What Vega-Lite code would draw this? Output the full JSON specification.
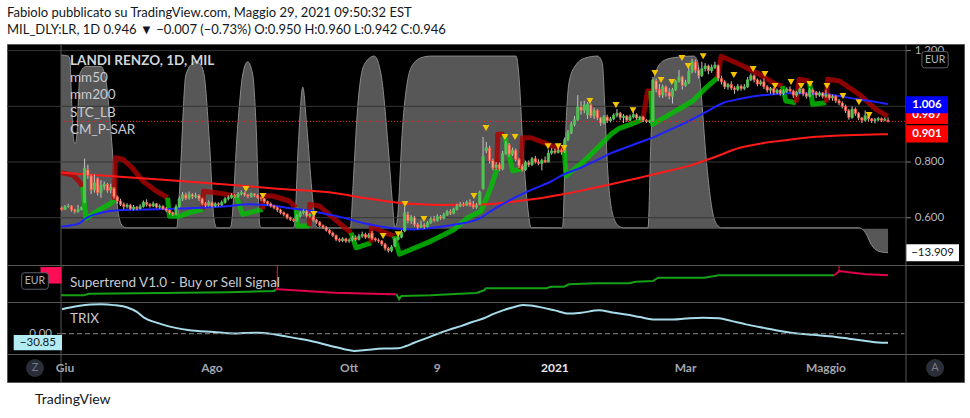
{
"$schema":"https://vega.github.io/schema/vega-lite/v6.json",
"background":"#ffffff",
"padding":{"left":6,"top":7,"right":7,"bottom":6},
"bounds":"flush",
"config":{"view":{"stroke":"#575757","fill":"#000000","strokeWidth":1},"font":"Lato"},
"title":{"text":"Fabiolo pubblicato su TradingView.com, Maggio 29, 2021 09:50:32 EST","subtitle":"MIL_DLY:LR, 1D  0.946 ▼ −0.007 (−0.73%) O:0.950 H:0.960 L:0.942 C:0.946","anchor":"start","frame":"group","font":"Lato","fontSize":13,"fontWeight":"normal","color":"#131722","subtitleFont":"Lato","subtitleFontSize":13,"subtitleFontWeight":"normal","subtitleColor":"#131722","subtitlePadding":4,"offset":6},
"spacing":0,
"resolve":{"scale":{"x":"independent","y":"independent"}},
"vconcat":[
{"width":957,"height":221,
 "resolve":{"scale":{"y":"independent"}},
 "layer":[
  {"data":{"values":[{"i":-1.22,"v":100.6},{"i":1.0,"v":100},{"i":1.5,"v":98},{"i":2.0,"v":75},{"i":2.45,"v":55},{"i":3.06,"v":49},{"i":3.67,"v":55},{"i":4.1,"v":75},{"i":4.6,"v":90},{"i":6.4,"v":94},{"i":8,"v":94},{"i":11,"v":94},{"i":12.6,"v":85},{"i":14.1,"v":55},{"i":15.6,"v":20},{"i":17.1,"v":3},{"i":18.7,"v":0.5},{"i":34.2,"v":0.5},{"i":35.0,"v":20},{"i":37.0,"v":89},{"i":39.1,"v":96},{"i":40.1,"v":97},{"i":41.5,"v":95},{"i":42.6,"v":89},{"i":44.2,"v":51},{"i":45.7,"v":4.5},{"i":46.5,"v":0.5},{"i":50.3,"v":0.5},{"i":50.8,"v":1.5},{"i":52.9,"v":60},{"i":54.4,"v":89},{"i":55.9,"v":96.7},{"i":57.5,"v":89},{"i":58.5,"v":60},{"i":59.7,"v":1.5},{"i":60.3,"v":0.5},{"i":69.7,"v":0.5},{"i":70.2,"v":1.5},{"i":71.5,"v":51},{"i":72.8,"v":82},{"i":74,"v":60},{"i":75.6,"v":22},{"i":76.9,"v":1.5},{"i":77.6,"v":0.5},{"i":87.4,"v":0.5},{"i":88.2,"v":25},{"i":89.6,"v":70},{"i":91.6,"v":95},{"i":94.7,"v":100},{"i":96.8,"v":89},{"i":98.8,"v":51},{"i":100.3,"v":14},{"i":101,"v":0.6},{"i":101.7,"v":4.5},{"i":103.4,"v":60},{"i":105.9,"v":93},{"i":109,"v":99},{"i":112,"v":100},{"i":138.1,"v":100},{"i":139.1,"v":85.6},{"i":140.1,"v":51},{"i":141.7,"v":12},{"i":142.7,"v":0.6},{"i":152.1,"v":0.5},{"i":152.4,"v":1.5},{"i":153.4,"v":60},{"i":154.4,"v":85.6},{"i":156.5,"v":95},{"i":159.5,"v":99},{"i":163.1,"v":100},{"i":164.5,"v":96},{"i":165.3,"v":70},{"i":166,"v":40},{"i":166.6,"v":22},{"i":168.5,"v":4},{"i":170,"v":1},{"i":171,"v":0.5},{"i":178.5,"v":0.5},{"i":179.4,"v":51},{"i":180.3,"v":87},{"i":183,"v":97},{"i":186.2,"v":99},{"i":192.6,"v":100},{"i":193.8,"v":96},{"i":194.7,"v":80},{"i":196.3,"v":41},{"i":198.4,"v":8.5},{"i":200,"v":1.5},{"i":201,"v":0.5},{"i":243.1,"v":0.5},{"i":245.3,"v":-3},{"i":246.8,"v":-9},{"i":249,"v":-13},{"i":252,"v":-13.909}]},
   "mark":{"type":"area","interpolate":"monotone","color":"#575757","opacity":1,"line":{"color":"#8a8a8a","strokeWidth":1}},
   "encoding":{"x":{"field":"i","type":"quantitative","scale":{"domain":[-17.76,275.26],"nice":false,"zero":false,"padding":0},"axis":{"values":[0,45,87,114,150,190,233],"grid":true,"gridColor":"#363636","labels":false,"ticks":false,"domain":false,"title":null}},
    "y":{"field":"v","type":"quantitative","scale":{"domain":[-21.03,107.0],"nice":false,"zero":false},"axis":null}}},
  {"data":{"values":[{"v":-13.909}]},
   "layer":[
    {"mark":{"type":"point","shape":"M-1,-0.32L1,-0.32L1,0.32L-1,0.32Z","filled":true,"fill":"#ffffff","size":2809,"opacity":1},
     "encoding":{"x":{"datum":265.62,"type":"quantitative","scale":{"domain":[-17.76,275.26],"nice":false,"zero":false,"padding":0},"axis":null},"y":{"field":"v","type":"quantitative","scale":{"domain":[-21.03,107.0],"nice":false,"zero":false},"axis":null}}},
    {"mark":{"type":"text","fontSize":11.5,"color":"#131722","align":"center","baseline":"middle"},
     "encoding":{"x":{"datum":265.62,"type":"quantitative","scale":{"domain":[-17.76,275.26],"nice":false,"zero":false,"padding":0},"axis":null},"y":{"field":"v","type":"quantitative","scale":{"domain":[-21.03,107.0],"nice":false,"zero":false},"axis":null},"text":{"field":"v","type":"quantitative","format":".3f"}}}
   ]},
  {"layer":[
    {"data":{"values":[{"g":0.6},{"g":0.8},{"g":1.0},{"g":1.2}]},
     "layer":[
      {"mark":{"type":"rule","color":"#363636","strokeWidth":1},
       "encoding":{"y":{"field":"g","type":"quantitative","scale":{"domain":[0.4302,1.2237],"nice":false,"zero":false},"axis":null},
        "x":{"datum":-17.76,"type":"quantitative","scale":{"domain":[-17.76,275.26],"nice":false,"zero":false,"padding":0},"axis":null},"x2":{"datum":257.5}}},
      {"mark":{"type":"rule","color":"#808080","strokeWidth":1},
       "encoding":{"y":{"field":"g","type":"quantitative","scale":{"domain":[0.4302,1.2237],"nice":false,"zero":false},"axis":null},
        "x":{"datum":257.5,"type":"quantitative","scale":{"domain":[-17.76,275.26],"nice":false,"zero":false,"padding":0},"axis":null},"x2":{"datum":259.0}}},
      {"mark":{"type":"text","fontSize":11.5,"color":"#b2b5be","align":"center","baseline":"middle"},
       "encoding":{"y":{"field":"g","type":"quantitative","scale":{"domain":[0.4302,1.2237],"nice":false,"zero":false},"axis":null},
        "x":{"datum":264.7,"type":"quantitative","scale":{"domain":[-17.76,275.26],"nice":false,"zero":false,"padding":0},"axis":null},"text":{"field":"g","type":"quantitative","format":".3f"}}}
     ]},
    {"data":{"values":[{"x":0}]},"mark":{"type":"rule","color":"#575757"},"encoding":{"x":{"datum":-1.225,"type":"quantitative","scale":{"domain":[-17.76,275.26],"nice":false,"zero":false,"padding":0},"axis":null}}},
    {"data":{"values":[{"x":0}]},"mark":{"type":"rule","color":"#575757"},"encoding":{"x":{"datum":257.5,"type":"quantitative","scale":{"domain":[-17.76,275.26],"nice":false,"zero":false,"padding":0},"axis":null}}},
    {"data":{"values":[
{"s":1,"t":"dn","i":-1.22,"p":0.762},{"s":1,"t":"dn","i":2.4,"p":0.753},{"s":1,"t":"dn","i":4.4,"p":0.729},{"s":1,"t":"dn","i":5.4,"p":0.711},
{"s":2,"t":"up","i":5.4,"p":0.711},{"s":2,"t":"up","i":6.4,"p":0.598},{"s":2,"t":"up","i":10.5,"p":0.628},{"s":2,"t":"up","i":14.1,"p":0.652},{"s":2,"t":"up","i":15.1,"p":0.664},
{"s":3,"t":"dn","i":15.1,"p":0.664},{"s":3,"t":"dn","i":15.4,"p":0.815},{"s":3,"t":"dn","i":17.7,"p":0.81},{"s":3,"t":"dn","i":20.5,"p":0.78},{"s":3,"t":"dn","i":23.8,"p":0.732},{"s":3,"t":"dn","i":27.9,"p":0.696},{"s":3,"t":"dn","i":31.4,"p":0.672},
{"s":4,"t":"up","i":31.4,"p":0.672},{"s":4,"t":"up","i":32.0,"p":0.605},{"s":4,"t":"up","i":35.0,"p":0.605},{"s":4,"t":"up","i":38.1,"p":0.618},{"s":4,"t":"up","i":42.2,"p":0.63},
{"s":5,"t":"dn","i":42.2,"p":0.63},{"s":5,"t":"dn","i":42.4,"p":0.695},{"s":5,"t":"dn","i":46.2,"p":0.69},{"s":5,"t":"dn","i":52.4,"p":0.678},
{"s":6,"t":"up","i":52.4,"p":0.678},{"s":6,"t":"up","i":54.4,"p":0.612},{"s":6,"t":"up","i":60.5,"p":0.63},
{"s":7,"t":"dn","i":60.5,"p":0.63},{"s":7,"t":"dn","i":60.6,"p":0.678},{"s":7,"t":"dn","i":63.6,"p":0.678},{"s":7,"t":"dn","i":68.7,"p":0.66},{"s":7,"t":"dn","i":70.7,"p":0.636},
{"s":8,"t":"up","i":70.7,"p":0.636},{"s":8,"t":"up","i":71.2,"p":0.57},{"s":8,"t":"up","i":74.8,"p":0.57},
{"s":9,"t":"dn","i":74.8,"p":0.57},{"s":9,"t":"dn","i":74.9,"p":0.648},{"s":9,"t":"dn","i":77.9,"p":0.642},{"s":9,"t":"dn","i":82,"p":0.6},{"s":9,"t":"dn","i":87.6,"p":0.546},
{"s":10,"t":"up","i":87.6,"p":0.546},{"s":10,"t":"up","i":89.1,"p":0.492},{"s":10,"t":"up","i":93.7,"p":0.51},
{"s":11,"t":"dn","i":93.7,"p":0.51},{"s":11,"t":"dn","i":93.8,"p":0.57},{"s":11,"t":"dn","i":96.8,"p":0.552},{"s":11,"t":"dn","i":100.8,"p":0.534},
{"s":12,"t":"up","i":100.8,"p":0.534},{"s":12,"t":"up","i":102.4,"p":0.469},{"s":12,"t":"up","i":112.1,"p":0.516},{"s":12,"t":"up","i":119.2,"p":0.558},{"s":12,"t":"up","i":123.3,"p":0.6},{"s":12,"t":"up","i":127.4,"p":0.624},{"s":12,"t":"up","i":130.4,"p":0.708},{"s":12,"t":"up","i":132.2,"p":0.774},
{"s":13,"t":"dn","i":132.2,"p":0.774},{"s":13,"t":"dn","i":132.5,"p":0.9},{"s":13,"t":"dn","i":134.5,"p":0.9},
{"s":14,"t":"up","i":134.5,"p":0.9},{"s":14,"t":"up","i":137.1,"p":0.768},{"s":14,"t":"up","i":139.6,"p":0.774},
{"s":15,"t":"dn","i":139.6,"p":0.774},{"s":15,"t":"dn","i":140.1,"p":0.887},{"s":15,"t":"dn","i":142.7,"p":0.887},{"s":15,"t":"dn","i":147.8,"p":0.864},{"s":15,"t":"dn","i":152.9,"p":0.84},
{"s":16,"t":"up","i":152.9,"p":0.84},{"s":16,"t":"up","i":153.4,"p":0.75},{"s":16,"t":"up","i":159,"p":0.804},{"s":16,"t":"up","i":163.1,"p":0.851},{"s":16,"t":"up","i":167.2,"p":0.9},{"s":16,"t":"up","i":169.7,"p":0.921},{"s":16,"t":"up","i":173.8,"p":0.938},{"s":16,"t":"up","i":176.9,"p":0.953},
{"s":17,"t":"dn","i":176.9,"p":0.953},{"s":17,"t":"dn","i":178.4,"p":1.055},{"s":17,"t":"dn","i":179.4,"p":1.055},
{"s":18,"t":"up","i":179.4,"p":1.055},{"s":18,"t":"up","i":179.9,"p":0.935},{"s":18,"t":"up","i":186.1,"p":0.977},{"s":18,"t":"up","i":192.2,"p":1.019},{"s":18,"t":"up","i":196.3,"p":1.067},{"s":18,"t":"up","i":199.8,"p":1.103},
{"s":19,"t":"dn","i":199.8,"p":1.103},{"s":19,"t":"dn","i":200.9,"p":1.18},{"s":19,"t":"dn","i":206.5,"p":1.151},{"s":19,"t":"dn","i":212.6,"p":1.115},{"s":19,"t":"dn","i":217.7,"p":1.079},{"s":19,"t":"dn","i":219.7,"p":1.073},
{"s":20,"t":"up","i":219.7,"p":1.073},{"s":20,"t":"up","i":220.7,"p":1.019},{"s":20,"t":"up","i":223.8,"p":1.013},
{"s":21,"t":"dn","i":223.8,"p":1.013},{"s":21,"t":"dn","i":224.8,"p":1.097},{"s":21,"t":"dn","i":227.9,"p":1.091},
{"s":22,"t":"up","i":227.9,"p":1.091},{"s":22,"t":"up","i":228.9,"p":1.007},{"s":22,"t":"up","i":233,"p":1.013},
{"s":23,"t":"dn","i":233,"p":1.013},{"s":23,"t":"dn","i":233.5,"p":1.097},{"s":23,"t":"dn","i":237.1,"p":1.091},{"s":23,"t":"dn","i":243.2,"p":1.043},{"s":23,"t":"dn","i":248.3,"p":0.989},{"s":23,"t":"dn","i":251.9,"p":0.965}
]},
     "mark":{"type":"line","strokeWidth":5,"opacity":0.8,"strokeJoin":"round","strokeCap":"butt"},
     "encoding":{"x":{"field":"i","type":"quantitative","scale":{"domain":[-17.76,275.26],"nice":false,"zero":false,"padding":0},"axis":null},"y":{"field":"p","type":"quantitative","scale":{"domain":[0.4302,1.2237],"nice":false,"zero":false},"axis":null},"detail":{"field":"s","type":"nominal"},"color":{"condition":{"test":"datum.t=='up'","value":"#00c400"},"value":"#b00000"}}},
    {"data":{"values":[{"i":-1.22,"p":0.762},{"i":14.7,"p":0.749},{"i":30,"p":0.736},{"i":48.4,"p":0.72},{"i":65,"p":0.704},{"i":83,"p":0.688},{"i":92,"p":0.67},{"i":102,"p":0.654},{"i":109,"p":0.648},{"i":116,"p":0.646},{"i":124,"p":0.647},{"i":130.4,"p":0.649},{"i":138.7,"p":0.66},{"i":146,"p":0.671},{"i":152.8,"p":0.685},{"i":160,"p":0.702},{"i":167.2,"p":0.72},{"i":175,"p":0.741},{"i":183,"p":0.763},{"i":191,"p":0.786},{"i":199,"p":0.818},{"i":206.4,"p":0.85},{"i":213,"p":0.866},{"i":220,"p":0.877},{"i":226.9,"p":0.887},{"i":234,"p":0.893},{"i":242,"p":0.897},{"i":252,"p":0.9}]},
     "mark":{"type":"line","color":"#ff1a1a","strokeWidth":2,"interpolate":"monotone"},
     "encoding":{"x":{"field":"i","type":"quantitative","scale":{"domain":[-17.76,275.26],"nice":false,"zero":false,"padding":0},"axis":null},"y":{"field":"p","type":"quantitative","scale":{"domain":[0.4302,1.2237],"nice":false,"zero":false},"axis":null}}},
    {"data":{"values":[{"i":-1.22,"p":0.568},{"i":2,"p":0.573},{"i":4.4,"p":0.58},{"i":6.4,"p":0.598},{"i":10.5,"p":0.616},{"i":17.6,"p":0.628},{"i":30.8,"p":0.631},{"i":40,"p":0.635},{"i":48.4,"p":0.64},{"i":56.3,"p":0.648},{"i":62.5,"p":0.645},{"i":68.6,"p":0.635},{"i":75,"p":0.625},{"i":81.4,"p":0.61},{"i":86,"p":0.598},{"i":91.5,"p":0.58},{"i":97,"p":0.568},{"i":102,"p":0.56},{"i":107,"p":0.558},{"i":112,"p":0.563},{"i":119,"p":0.575},{"i":126.5,"p":0.595},{"i":130.4,"p":0.624},{"i":134.5,"p":0.652},{"i":138.7,"p":0.678},{"i":143.8,"p":0.705},{"i":148.8,"p":0.73},{"i":152.8,"p":0.756},{"i":158,"p":0.78},{"i":163,"p":0.808},{"i":167.2,"p":0.832},{"i":174,"p":0.862},{"i":181,"p":0.893},{"i":186,"p":0.92},{"i":191,"p":0.947},{"i":196,"p":0.978},{"i":201.5,"p":1.012},{"i":206.5,"p":1.026},{"i":211.6,"p":1.037},{"i":216.6,"p":1.043},{"i":221.7,"p":1.047},{"i":227,"p":1.047},{"i":232.1,"p":1.044},{"i":237,"p":1.037},{"i":242.2,"p":1.026},{"i":247,"p":1.018},{"i":252,"p":1.008}]},
     "mark":{"type":"line","color":"#1e22ff","strokeWidth":2,"interpolate":"monotone"},
     "encoding":{"x":{"field":"i","type":"quantitative","scale":{"domain":[-17.76,275.26],"nice":false,"zero":false,"padding":0},"axis":null},"y":{"field":"p","type":"quantitative","scale":{"domain":[0.4302,1.2237],"nice":false,"zero":false},"axis":null}}},
    {"data":{"values":[{"c":0.946}]},
     "mark":{"type":"rule","color":"#ff2020","strokeWidth":1,"strokeDash":[1,2]},
     "encoding":{"y":{"field":"c","type":"quantitative","scale":{"domain":[0.4302,1.2237],"nice":false,"zero":false},"axis":null},"x":{"datum":-1.225,"type":"quantitative","scale":{"domain":[-17.76,275.26],"nice":false,"zero":false,"padding":0},"axis":null},"x2":{"datum":257.5}}},
    {"data":{"name":"ohlc","values":[
{"i":-1,"o":0.635,"h":0.640,"l":0.625,"c":0.630},{"i":0,"o":0.630,"h":0.645,"l":0.628,"c":0.640},{"i":1,"o":0.640,"h":0.650,"l":0.636,"c":0.642},{"i":2,"o":0.642,"h":0.645,"l":0.622,"c":0.628},{"i":3,"o":0.628,"h":0.632,"l":0.615,"c":0.622},{"i":4,"o":0.622,"h":0.646,"l":0.618,"c":0.630},{"i":5,"o":0.630,"h":0.640,"l":0.626,"c":0.636},{"i":6,"o":0.655,"h":0.812,"l":0.652,"c":0.778},{"i":7,"o":0.772,"h":0.790,"l":0.740,"c":0.752},{"i":8,"o":0.750,"h":0.755,"l":0.685,"c":0.700},
{"i":9,"o":0.700,"h":0.755,"l":0.690,"c":0.725},{"i":10,"o":0.740,"h":0.745,"l":0.680,"c":0.690},{"i":11,"o":0.690,"h":0.735,"l":0.672,"c":0.715},{"i":12,"o":0.712,"h":0.730,"l":0.700,"c":0.720},{"i":13,"o":0.720,"h":0.725,"l":0.690,"c":0.698},{"i":14,"o":0.700,"h":0.722,"l":0.688,"c":0.710},{"i":15,"o":0.705,"h":0.710,"l":0.668,"c":0.675},{"i":16,"o":0.675,"h":0.680,"l":0.650,"c":0.660},{"i":17,"o":0.660,"h":0.668,"l":0.642,"c":0.648},{"i":18,"o":0.648,"h":0.655,"l":0.630,"c":0.640},
{"i":19,"o":0.640,"h":0.652,"l":0.633,"c":0.645},{"i":20,"o":0.645,"h":0.650,"l":0.628,"c":0.632},{"i":21,"o":0.632,"h":0.646,"l":0.626,"c":0.638},{"i":22,"o":0.638,"h":0.642,"l":0.627,"c":0.633},{"i":23,"o":0.633,"h":0.648,"l":0.630,"c":0.640},{"i":24,"o":0.640,"h":0.662,"l":0.636,"c":0.655},{"i":25,"o":0.655,"h":0.666,"l":0.640,"c":0.648},{"i":26,"o":0.648,"h":0.652,"l":0.636,"c":0.642},{"i":27,"o":0.642,"h":0.658,"l":0.638,"c":0.650},{"i":28,"o":0.650,"h":0.653,"l":0.634,"c":0.638},
{"i":29,"o":0.638,"h":0.648,"l":0.632,"c":0.641},{"i":30,"o":0.641,"h":0.645,"l":0.628,"c":0.632},{"i":31,"o":0.632,"h":0.638,"l":0.620,"c":0.626},{"i":32,"o":0.626,"h":0.630,"l":0.612,"c":0.618},{"i":33,"o":0.618,"h":0.622,"l":0.606,"c":0.612},{"i":34,"o":0.612,"h":0.648,"l":0.608,"c":0.640},{"i":35,"o":0.640,"h":0.676,"l":0.636,"c":0.668},{"i":36,"o":0.668,"h":0.692,"l":0.660,"c":0.682},{"i":37,"o":0.682,"h":0.690,"l":0.664,"c":0.670},{"i":38,"o":0.670,"h":0.694,"l":0.665,"c":0.684},
{"i":39,"o":0.684,"h":0.688,"l":0.668,"c":0.676},{"i":40,"o":0.676,"h":0.690,"l":0.670,"c":0.680},{"i":41,"o":0.680,"h":0.684,"l":0.660,"c":0.668},{"i":42,"o":0.668,"h":0.672,"l":0.644,"c":0.650},{"i":43,"o":0.650,"h":0.656,"l":0.638,"c":0.645},{"i":44,"o":0.645,"h":0.662,"l":0.640,"c":0.655},{"i":45,"o":0.655,"h":0.658,"l":0.636,"c":0.642},{"i":46,"o":0.642,"h":0.656,"l":0.638,"c":0.650},{"i":47,"o":0.650,"h":0.655,"l":0.640,"c":0.646},{"i":48,"o":0.646,"h":0.662,"l":0.642,"c":0.655},
{"i":49,"o":0.655,"h":0.674,"l":0.650,"c":0.668},{"i":50,"o":0.668,"h":0.680,"l":0.662,"c":0.672},{"i":51,"o":0.672,"h":0.688,"l":0.668,"c":0.680},{"i":52,"o":0.680,"h":0.686,"l":0.670,"c":0.676},{"i":53,"o":0.676,"h":0.692,"l":0.672,"c":0.685},{"i":54,"o":0.685,"h":0.698,"l":0.680,"c":0.690},{"i":55,"o":0.690,"h":0.694,"l":0.676,"c":0.682},{"i":56,"o":0.682,"h":0.686,"l":0.670,"c":0.676},{"i":57,"o":0.676,"h":0.690,"l":0.672,"c":0.686},{"i":58,"o":0.686,"h":0.688,"l":0.674,"c":0.680},
{"i":59,"o":0.680,"h":0.684,"l":0.668,"c":0.672},{"i":60,"o":0.672,"h":0.676,"l":0.660,"c":0.668},{"i":61,"o":0.668,"h":0.670,"l":0.652,"c":0.658},{"i":62,"o":0.658,"h":0.662,"l":0.644,"c":0.650},{"i":63,"o":0.650,"h":0.655,"l":0.636,"c":0.642},{"i":64,"o":0.642,"h":0.646,"l":0.630,"c":0.636},{"i":65,"o":0.636,"h":0.640,"l":0.620,"c":0.628},{"i":66,"o":0.628,"h":0.632,"l":0.612,"c":0.618},{"i":67,"o":0.618,"h":0.622,"l":0.605,"c":0.612},{"i":68,"o":0.612,"h":0.615,"l":0.594,"c":0.600},
{"i":69,"o":0.600,"h":0.604,"l":0.588,"c":0.594},{"i":70,"o":0.594,"h":0.598,"l":0.584,"c":0.590},{"i":71,"o":0.590,"h":0.612,"l":0.586,"c":0.606},{"i":72,"o":0.606,"h":0.624,"l":0.600,"c":0.618},{"i":73,"o":0.618,"h":0.630,"l":0.612,"c":0.624},{"i":74,"o":0.624,"h":0.628,"l":0.600,"c":0.606},{"i":75,"o":0.606,"h":0.618,"l":0.600,"c":0.612},{"i":76,"o":0.604,"h":0.606,"l":0.586,"c":0.592},{"i":77,"o":0.592,"h":0.596,"l":0.578,"c":0.584},{"i":78,"o":0.584,"h":0.588,"l":0.566,"c":0.572},
{"i":79,"o":0.572,"h":0.576,"l":0.560,"c":0.566},{"i":80,"o":0.566,"h":0.570,"l":0.550,"c":0.555},{"i":81,"o":0.555,"h":0.560,"l":0.540,"c":0.545},{"i":82,"o":0.545,"h":0.550,"l":0.530,"c":0.536},{"i":83,"o":0.536,"h":0.540,"l":0.516,"c":0.522},{"i":84,"o":0.522,"h":0.528,"l":0.512,"c":0.518},{"i":85,"o":0.518,"h":0.530,"l":0.512,"c":0.524},{"i":86,"o":0.524,"h":0.528,"l":0.510,"c":0.516},{"i":87,"o":0.516,"h":0.526,"l":0.510,"c":0.520},{"i":88,"o":0.520,"h":0.535,"l":0.515,"c":0.528},
{"i":89,"o":0.528,"h":0.536,"l":0.516,"c":0.522},{"i":90,"o":0.522,"h":0.542,"l":0.518,"c":0.534},{"i":91,"o":0.534,"h":0.550,"l":0.528,"c":0.540},{"i":92,"o":0.540,"h":0.546,"l":0.524,"c":0.530},{"i":93,"o":0.530,"h":0.545,"l":0.526,"c":0.538},{"i":94,"o":0.545,"h":0.552,"l":0.520,"c":0.525},{"i":95,"o":0.525,"h":0.530,"l":0.514,"c":0.520},{"i":96,"o":0.520,"h":0.526,"l":0.510,"c":0.516},{"i":97,"o":0.516,"h":0.520,"l":0.498,"c":0.505},{"i":98,"o":0.505,"h":0.510,"l":0.482,"c":0.490},
{"i":99,"o":0.490,"h":0.496,"l":0.475,"c":0.482},{"i":100,"o":0.482,"h":0.502,"l":0.476,"c":0.495},{"i":101,"o":0.498,"h":0.528,"l":0.494,"c":0.522},{"i":102,"o":0.522,"h":0.536,"l":0.518,"c":0.530},{"i":103,"o":0.530,"h":0.556,"l":0.526,"c":0.548},{"i":104,"o":0.552,"h":0.640,"l":0.548,"c":0.618},{"i":105,"o":0.612,"h":0.622,"l":0.580,"c":0.588},{"i":106,"o":0.588,"h":0.610,"l":0.578,"c":0.602},{"i":107,"o":0.600,"h":0.606,"l":0.568,"c":0.575},{"i":108,"o":0.575,"h":0.582,"l":0.558,"c":0.566},
{"i":109,"o":0.566,"h":0.590,"l":0.562,"c":0.574},{"i":110,"o":0.574,"h":0.580,"l":0.560,"c":0.568},{"i":111,"o":0.568,"h":0.588,"l":0.565,"c":0.582},{"i":112,"o":0.582,"h":0.604,"l":0.578,"c":0.596},{"i":113,"o":0.596,"h":0.606,"l":0.585,"c":0.590},{"i":114,"o":0.590,"h":0.612,"l":0.586,"c":0.604},{"i":115,"o":0.604,"h":0.610,"l":0.592,"c":0.598},{"i":116,"o":0.598,"h":0.618,"l":0.594,"c":0.610},{"i":117,"o":0.610,"h":0.628,"l":0.606,"c":0.622},{"i":118,"o":0.622,"h":0.630,"l":0.610,"c":0.616},
{"i":119,"o":0.616,"h":0.636,"l":0.612,"c":0.630},{"i":120,"o":0.630,"h":0.650,"l":0.626,"c":0.642},{"i":121,"o":0.642,"h":0.656,"l":0.638,"c":0.648},{"i":122,"o":0.648,"h":0.655,"l":0.640,"c":0.645},{"i":123,"o":0.645,"h":0.662,"l":0.642,"c":0.655},{"i":124,"o":0.655,"h":0.666,"l":0.640,"c":0.646},{"i":125,"o":0.646,"h":0.660,"l":0.632,"c":0.638},{"i":126,"o":0.638,"h":0.652,"l":0.632,"c":0.645},{"i":127,"o":0.648,"h":0.698,"l":0.645,"c":0.692},{"i":128,"o":0.705,"h":0.890,"l":0.700,"c":0.820},
{"i":129,"o":0.840,"h":0.872,"l":0.832,"c":0.852},{"i":130,"o":0.850,"h":0.858,"l":0.795,"c":0.805},{"i":131,"o":0.805,"h":0.812,"l":0.770,"c":0.778},{"i":132,"o":0.780,"h":0.800,"l":0.772,"c":0.790},{"i":133,"o":0.790,"h":0.798,"l":0.768,"c":0.775},{"i":134,"o":0.775,"h":0.840,"l":0.770,"c":0.830},{"i":135,"o":0.830,"h":0.876,"l":0.826,"c":0.866},{"i":136,"o":0.862,"h":0.868,"l":0.820,"c":0.828},{"i":137,"o":0.828,"h":0.852,"l":0.822,"c":0.842},{"i":138,"o":0.842,"h":0.848,"l":0.802,"c":0.810},
{"i":139,"o":0.810,"h":0.815,"l":0.778,"c":0.785},{"i":140,"o":0.785,"h":0.792,"l":0.766,"c":0.772},{"i":141,"o":0.772,"h":0.805,"l":0.768,"c":0.798},{"i":142,"o":0.798,"h":0.806,"l":0.782,"c":0.790},{"i":143,"o":0.790,"h":0.818,"l":0.786,"c":0.812},{"i":144,"o":0.812,"h":0.822,"l":0.794,"c":0.800},{"i":145,"o":0.800,"h":0.810,"l":0.788,"c":0.795},{"i":146,"o":0.795,"h":0.812,"l":0.770,"c":0.806},{"i":147,"o":0.806,"h":0.820,"l":0.796,"c":0.800},{"i":148,"o":0.800,"h":0.845,"l":0.798,"c":0.832},
{"i":149,"o":0.832,"h":0.850,"l":0.826,"c":0.840},{"i":150,"o":0.840,"h":0.848,"l":0.828,"c":0.834},{"i":151,"o":0.834,"h":0.852,"l":0.830,"c":0.842},{"i":152,"o":0.842,"h":0.848,"l":0.826,"c":0.836},{"i":153,"o":0.836,"h":0.888,"l":0.832,"c":0.880},{"i":154,"o":0.880,"h":0.915,"l":0.875,"c":0.905},{"i":155,"o":0.905,"h":0.945,"l":0.900,"c":0.935},{"i":156,"o":0.935,"h":0.965,"l":0.928,"c":0.952},{"i":157,"o":0.952,"h":1.040,"l":0.948,"c":0.998},{"i":158,"o":0.998,"h":1.018,"l":0.970,"c":0.985},
{"i":159,"o":0.985,"h":1.020,"l":0.975,"c":1.005},{"i":160,"o":0.970,"h":1.015,"l":0.955,"c":1.008},{"i":161,"o":1.005,"h":1.010,"l":0.958,"c":0.965},{"i":162,"o":0.965,"h":0.995,"l":0.955,"c":0.985},{"i":163,"o":0.985,"h":0.990,"l":0.950,"c":0.958},{"i":164,"o":0.958,"h":0.962,"l":0.930,"c":0.940},{"i":165,"o":0.940,"h":0.968,"l":0.935,"c":0.962},{"i":166,"o":0.962,"h":0.970,"l":0.940,"c":0.948},{"i":167,"o":0.948,"h":0.962,"l":0.942,"c":0.955},{"i":168,"o":0.955,"h":0.975,"l":0.950,"c":0.968},
{"i":169,"o":0.968,"h":0.990,"l":0.960,"c":0.975},{"i":170,"o":0.975,"h":0.980,"l":0.950,"c":0.960},{"i":171,"o":0.960,"h":0.972,"l":0.940,"c":0.965},{"i":172,"o":0.965,"h":0.968,"l":0.944,"c":0.950},{"i":173,"o":0.950,"h":0.970,"l":0.946,"c":0.962},{"i":174,"o":0.962,"h":0.980,"l":0.956,"c":0.970},{"i":175,"o":0.970,"h":0.975,"l":0.952,"c":0.958},{"i":176,"o":0.958,"h":0.966,"l":0.950,"c":0.962},{"i":177,"o":0.962,"h":0.966,"l":0.944,"c":0.950},{"i":178,"o":0.950,"h":0.955,"l":0.940,"c":0.945},
{"i":179,"o":0.945,"h":0.952,"l":0.940,"c":0.948},{"i":180,"o":0.948,"h":1.105,"l":0.945,"c":1.095},{"i":181,"o":1.092,"h":1.100,"l":1.050,"c":1.060},{"i":182,"o":1.060,"h":1.080,"l":1.032,"c":1.040},{"i":183,"o":1.040,"h":1.078,"l":1.030,"c":1.070},{"i":184,"o":1.070,"h":1.075,"l":1.035,"c":1.050},{"i":185,"o":1.050,"h":1.065,"l":1.025,"c":1.036},{"i":186,"o":1.036,"h":1.066,"l":1.010,"c":1.060},{"i":187,"o":1.060,"h":1.095,"l":1.055,"c":1.090},{"i":188,"o":1.090,"h":1.130,"l":1.085,"c":1.105},
{"i":189,"o":1.105,"h":1.110,"l":1.060,"c":1.075},{"i":190,"o":1.075,"h":1.095,"l":1.070,"c":1.085},{"i":191,"o":1.085,"h":1.140,"l":1.080,"c":1.125},{"i":192,"o":1.125,"h":1.170,"l":1.118,"c":1.160},{"i":193,"o":1.160,"h":1.168,"l":1.120,"c":1.130},{"i":194,"o":1.130,"h":1.140,"l":1.100,"c":1.110},{"i":195,"o":1.110,"h":1.160,"l":1.105,"c":1.135},{"i":196,"o":1.135,"h":1.155,"l":1.125,"c":1.145},{"i":197,"o":1.145,"h":1.150,"l":1.115,"c":1.128},{"i":198,"o":1.128,"h":1.150,"l":1.120,"c":1.140},
{"i":199,"o":1.140,"h":1.160,"l":1.134,"c":1.148},{"i":200,"o":1.146,"h":1.150,"l":1.090,"c":1.100},{"i":201,"o":1.100,"h":1.110,"l":1.078,"c":1.088},{"i":202,"o":1.088,"h":1.094,"l":1.062,"c":1.070},{"i":203,"o":1.070,"h":1.084,"l":1.060,"c":1.078},{"i":204,"o":1.078,"h":1.090,"l":1.058,"c":1.066},{"i":205,"o":1.066,"h":1.072,"l":1.045,"c":1.060},{"i":206,"o":1.060,"h":1.080,"l":1.054,"c":1.072},{"i":207,"o":1.072,"h":1.078,"l":1.056,"c":1.064},{"i":208,"o":1.064,"h":1.080,"l":1.058,"c":1.070},
{"i":209,"o":1.070,"h":1.105,"l":1.066,"c":1.095},{"i":210,"o":1.095,"h":1.118,"l":1.090,"c":1.110},{"i":211,"o":1.110,"h":1.114,"l":1.086,"c":1.095},{"i":212,"o":1.095,"h":1.100,"l":1.072,"c":1.080},{"i":213,"o":1.080,"h":1.096,"l":1.074,"c":1.088},{"i":214,"o":1.088,"h":1.100,"l":1.062,"c":1.070},{"i":215,"o":1.070,"h":1.076,"l":1.050,"c":1.058},{"i":216,"o":1.058,"h":1.070,"l":1.045,"c":1.064},{"i":217,"o":1.064,"h":1.068,"l":1.042,"c":1.050},{"i":218,"o":1.050,"h":1.064,"l":1.044,"c":1.058},
{"i":219,"o":1.058,"h":1.062,"l":1.038,"c":1.046},{"i":220,"o":1.046,"h":1.060,"l":1.040,"c":1.054},{"i":221,"o":1.054,"h":1.068,"l":1.048,"c":1.062},{"i":222,"o":1.062,"h":1.072,"l":1.050,"c":1.055},{"i":223,"o":1.055,"h":1.060,"l":1.030,"c":1.040},{"i":224,"o":1.040,"h":1.056,"l":1.034,"c":1.050},{"i":225,"o":1.050,"h":1.068,"l":1.044,"c":1.062},{"i":226,"o":1.062,"h":1.066,"l":1.036,"c":1.045},{"i":227,"o":1.045,"h":1.050,"l":1.028,"c":1.036},{"i":228,"o":1.036,"h":1.065,"l":1.032,"c":1.058},
{"i":229,"o":1.058,"h":1.064,"l":1.040,"c":1.050},{"i":230,"o":1.050,"h":1.055,"l":1.030,"c":1.040},{"i":231,"o":1.040,"h":1.054,"l":1.034,"c":1.048},{"i":232,"o":1.048,"h":1.052,"l":1.028,"c":1.036},{"i":233,"o":1.036,"h":1.060,"l":1.030,"c":1.042},{"i":234,"o":1.042,"h":1.046,"l":1.022,"c":1.030},{"i":235,"o":1.030,"h":1.042,"l":1.020,"c":1.036},{"i":236,"o":1.036,"h":1.040,"l":1.012,"c":1.020},{"i":237,"o":1.020,"h":1.026,"l":1.004,"c":1.012},{"i":238,"o":1.012,"h":1.018,"l":0.992,"c":1.000},
{"i":239,"o":1.000,"h":1.006,"l":0.976,"c":0.985},{"i":240,"o":0.985,"h":0.990,"l":0.952,"c":0.960},{"i":241,"o":0.960,"h":1.000,"l":0.955,"c":0.990},{"i":242,"o":0.990,"h":0.996,"l":0.966,"c":0.975},{"i":243,"o":0.975,"h":0.980,"l":0.950,"c":0.958},{"i":244,"o":0.958,"h":0.962,"l":0.940,"c":0.950},{"i":245,"o":0.950,"h":0.985,"l":0.945,"c":0.966},{"i":246,"o":0.966,"h":0.970,"l":0.946,"c":0.955},{"i":247,"o":0.955,"h":0.958,"l":0.940,"c":0.948},{"i":248,"o":0.948,"h":0.958,"l":0.938,"c":0.952},
{"i":249,"o":0.952,"h":0.962,"l":0.946,"c":0.956},{"i":250,"o":0.956,"h":0.960,"l":0.944,"c":0.950},{"i":251,"o":0.950,"h":0.960,"l":0.946,"c":0.953},{"i":252,"o":0.950,"h":0.960,"l":0.942,"c":0.946}
]},
     "layer":[
      {"mark":{"type":"rule","color":"#c4c4c4","strokeWidth":1},
       "encoding":{"x":{"field":"i","type":"quantitative","scale":{"domain":[-17.76,275.26],"nice":false,"zero":false,"padding":0},"axis":null},"y":{"field":"l","type":"quantitative","scale":{"domain":[0.4302,1.2237],"nice":false,"zero":false},"axis":null},"y2":{"field":"h"}}},
      {"mark":{"type":"bar","width":2.2,"strokeWidth":0.8},
       "encoding":{"x":{"field":"i","type":"quantitative","scale":{"domain":[-17.76,275.26],"nice":false,"zero":false,"padding":0},"axis":null},"y":{"field":"o","type":"quantitative","scale":{"domain":[0.4302,1.2237],"nice":false,"zero":false},"axis":null},"y2":{"field":"c"},
        "fill":{"condition":{"test":"datum.c >= datum.o","value":"#52c455"},"value":"#ffb49c"},
        "stroke":{"condition":{"test":"datum.c >= datum.o","value":"#52c455"},"value":"#ff4a3a"}}}
     ]},
    {"data":{"values":[{"i":55.4,"p":0.703},{"i":60.6,"p":0.678},{"i":76.2,"p":0.613},{"i":97.4,"p":0.534},{"i":102,"p":0.541},{"i":104.1,"p":0.649},{"i":109.9,"p":0.595},{"i":125.2,"p":0.678},{"i":128.9,"p":0.922},{"i":134.7,"p":0.89},{"i":137.8,"p":0.89},{"i":147.9,"p":0.857},{"i":151,"p":0.857},{"i":152.8,"p":0.85},{"i":160.7,"p":1.019},{"i":168.7,"p":1.005},{"i":173.9,"p":0.986},{"i":180.6,"p":1.12},{"i":182.5,"p":1.094},{"i":185.8,"p":1.087},{"i":188.9,"p":1.173},{"i":190.8,"p":1.145},{"i":195.4,"p":1.18},{"i":204.8,"p":1.112},{"i":210.7,"p":1.134},{"i":214.3,"p":1.116},{"i":217.4,"p":1.073},{"i":222.3,"p":1.087},{"i":225.4,"p":1.073},{"i":228.1,"p":1.08},{"i":233.3,"p":1.073},{"i":238.2,"p":1.037},{"i":243.1,"p":1.015},{"i":246.2,"p":0.969}]},
     "mark":{"type":"point","shape":"triangle-down","filled":true,"color":"#f5c400","size":48,"opacity":1},
     "encoding":{"x":{"field":"i","type":"quantitative","scale":{"domain":[-17.76,275.26],"nice":false,"zero":false,"padding":0},"axis":null},"y":{"field":"p","type":"quantitative","scale":{"domain":[0.4302,1.2237],"nice":false,"zero":false},"axis":null}}},
    {"data":{"values":[{"v":0.901},{"v":0.967}]},
     "layer":[
      {"mark":{"type":"point","shape":"M-1,-0.405L1,-0.405L1,0.405L-1,0.405Z","filled":true,"fill":"#ff0000","size":1764,"opacity":1},
       "encoding":{"x":{"datum":263.93,"type":"quantitative","scale":{"domain":[-17.76,275.26],"nice":false,"zero":false,"padding":0},"axis":null},"y":{"field":"v","type":"quantitative","scale":{"domain":[0.4302,1.2237],"nice":false,"zero":false},"axis":null}}},
      {"mark":{"type":"text","fontSize":11.5,"fontWeight":"bold","color":"#ffffff","align":"center","baseline":"middle"},
       "encoding":{"x":{"datum":263.93,"type":"quantitative","scale":{"domain":[-17.76,275.26],"nice":false,"zero":false,"padding":0},"axis":null},"y":{"field":"v","type":"quantitative","scale":{"domain":[0.4302,1.2237],"nice":false,"zero":false},"axis":null},"text":{"field":"v","type":"quantitative","format":".3f"}}}
     ]},
    {"data":{"values":[{"v":1.006}]},
     "layer":[
      {"mark":{"type":"point","shape":"M-1,-0.405L1,-0.405L1,0.405L-1,0.405Z","filled":true,"fill":"#0000ff","size":1764,"opacity":1},
       "encoding":{"x":{"datum":263.93,"type":"quantitative","scale":{"domain":[-17.76,275.26],"nice":false,"zero":false,"padding":0},"axis":null},"y":{"field":"v","type":"quantitative","scale":{"domain":[0.4302,1.2237],"nice":false,"zero":false},"axis":null}}},
      {"mark":{"type":"text","fontSize":11.5,"fontWeight":"bold","color":"#ffffff","align":"center","baseline":"middle"},
       "encoding":{"x":{"datum":263.93,"type":"quantitative","scale":{"domain":[-17.76,275.26],"nice":false,"zero":false,"padding":0},"axis":null},"y":{"field":"v","type":"quantitative","scale":{"domain":[0.4302,1.2237],"nice":false,"zero":false},"axis":null},"text":{"field":"v","type":"quantitative","format":".3f"}}}
     ]},
    {"data":{"values":[{"u":"EUR"}]},
     "layer":[
      {"mark":{"type":"point","shape":"M-0.8,-0.62Q-1,-0.62,-1,-0.42L-1,0.42Q-1,0.62,-0.8,0.62L0.8,0.62Q1,0.62,1,0.42L1,-0.42Q1,-0.62,0.8,-0.62Z","filled":true,"fill":"#000000","stroke":"#5d606b","strokeWidth":1,"size":690,"opacity":1},
       "encoding":{"x":{"datum":266.4,"type":"quantitative","scale":{"domain":[-17.76,275.26],"nice":false,"zero":false,"padding":0},"axis":null},"y":{"datum":1.1673,"type":"quantitative","scale":{"domain":[0.4302,1.2237],"nice":false,"zero":false},"axis":null}}},
      {"mark":{"type":"text","fontSize":10.5,"color":"#b2b5be","align":"center","baseline":"middle"},
       "encoding":{"x":{"datum":266.4,"type":"quantitative","scale":{"domain":[-17.76,275.26],"nice":false,"zero":false,"padding":0},"axis":null},"y":{"datum":1.1673,"type":"quantitative","scale":{"domain":[0.4302,1.2237],"nice":false,"zero":false},"axis":null},"text":{"field":"u"}}}
     ]},
    {"data":{"values":[{"t":"LANDI RENZO, 1D, MIL"}]},
     "mark":{"type":"text","fontSize":13.5,"fontWeight":"bold","color":"#d1d4dc","align":"left","baseline":"middle"},
     "encoding":{"x":{"datum":1.53,"type":"quantitative","scale":{"domain":[-17.76,275.26],"nice":false,"zero":false,"padding":0},"axis":null},"y":{"datum":1.1616,"type":"quantitative","scale":{"domain":[0.4302,1.2237],"nice":false,"zero":false},"axis":null},"text":{"field":"t"}}},
    {"data":{"values":[{"t":"mm50","p":1.1005},{"t":"mm200","p":1.0388},{"t":"STC_LB","p":0.9777},{"t":"CM_P-SAR","p":0.9167}]},
     "mark":{"type":"text","fontSize":13.5,"color":"#c8cad2","align":"left","baseline":"middle"},
     "encoding":{"x":{"datum":1.53,"type":"quantitative","scale":{"domain":[-17.76,275.26],"nice":false,"zero":false,"padding":0},"axis":null},"y":{"field":"p","type":"quantitative","scale":{"domain":[0.4302,1.2237],"nice":false,"zero":false},"axis":null},"text":{"field":"t"}}}
  ]}
 ]},
{"width":957,"height":37,
 "layer":[
  {"data":{"values":[
{"s":1,"t":"up","i":-1.22,"v":0.58},{"s":1,"t":"up","i":5.8,"v":0.58},{"s":1,"t":"up","i":7.3,"v":0.612},{"s":1,"t":"up","i":30,"v":0.625},{"s":1,"t":"up","i":50,"v":0.64},{"s":1,"t":"up","i":64,"v":0.666},{"s":1,"t":"up","i":64.6,"v":0.7},
{"s":2,"t":"dn","i":64.6,"v":0.7},{"s":2,"t":"dn","i":65.2,"v":0.7},{"s":2,"t":"dn","i":82.4,"v":0.632},{"s":2,"t":"dn","i":100.4,"v":0.6},{"s":2,"t":"dn","i":101.5,"v":0.6},
{"s":3,"t":"up","i":101.5,"v":0.6},{"s":3,"t":"up","i":102.3,"v":0.5},{"s":3,"t":"up","i":103,"v":0.566},{"s":3,"t":"up","i":112,"v":0.58},{"s":3,"t":"up","i":124,"v":0.62},{"s":3,"t":"up","i":126,"v":0.625},{"s":3,"t":"up","i":128.3,"v":0.68},{"s":3,"t":"up","i":128.9,"v":0.72},{"s":3,"t":"up","i":147.3,"v":0.72},{"s":3,"t":"up","i":148.8,"v":0.752},{"s":3,"t":"up","i":152.8,"v":0.752},{"s":3,"t":"up","i":154.3,"v":0.8},{"s":3,"t":"up","i":162.6,"v":0.82},{"s":3,"t":"up","i":172.7,"v":0.82},{"s":3,"t":"up","i":174.8,"v":0.852},{"s":3,"t":"up","i":180,"v":0.866},{"s":3,"t":"up","i":181.6,"v":0.932},{"s":3,"t":"up","i":195.7,"v":0.932},{"s":3,"t":"up","i":200.2,"v":0.98},{"s":3,"t":"up","i":235.5,"v":0.98},
{"s":4,"t":"dn","i":235.5,"v":0.98},{"s":4,"t":"dn","i":236.2,"v":1.012},{"s":4,"t":"dn","i":237,"v":1.066},{"s":4,"t":"dn","i":241.3,"v":1.032},{"s":4,"t":"dn","i":245.3,"v":1.0},{"s":4,"t":"dn","i":252,"v":0.98}
]},
   "mark":{"type":"line","strokeWidth":2},
   "encoding":{"x":{"field":"i","type":"quantitative","scale":{"domain":[-17.76,275.26],"nice":false,"zero":false,"padding":0},"axis":{"values":[0,45,87,114,150,190,233],"grid":true,"gridColor":"#363636","labels":false,"ticks":false,"domain":false,"title":null}},
    "y":{"field":"v","type":"quantitative","scale":{"domain":[0.446,1.186],"nice":false,"zero":false},"axis":null},"detail":{"field":"s","type":"nominal"},
    "color":{"condition":{"test":"datum.t=='up'","value":"#15a015"},"value":"#e0004e"}}},
  {"data":{"values":[{"i":65.0,"a":1.166,"b":0.7},{"i":237.0,"a":1.166,"b":1.066}]},
   "mark":{"type":"rule","color":"#ff1030","strokeWidth":1},
   "encoding":{"x":{"field":"i","type":"quantitative","scale":{"domain":[-17.76,275.26],"nice":false,"zero":false,"padding":0},"axis":null},"y":{"field":"a","type":"quantitative","scale":{"domain":[0.446,1.186],"nice":false,"zero":false},"axis":null},"y2":{"field":"b"}}},
  {"data":{"values":[{"x":0}]},"mark":{"type":"rule","color":"#575757"},"encoding":{"x":{"datum":-1.225,"type":"quantitative","scale":{"domain":[-17.76,275.26],"nice":false,"zero":false,"padding":0},"axis":null}}},
  {"data":{"values":[{"x":0}]},"mark":{"type":"rule","color":"#575757"},"encoding":{"x":{"datum":257.5,"type":"quantitative","scale":{"domain":[-17.76,275.26],"nice":false,"zero":false,"padding":0},"axis":null}}},
  {"data":{"values":[{"v":0.98}]},
   "mark":{"type":"point","shape":"M-1,-0.786L1,-0.786L1,0.786L-1,0.786Z","filled":true,"fill":"#ff0d55","size":441,"opacity":1},
   "encoding":{"x":{"datum":-4.29,"type":"quantitative","scale":{"domain":[-17.76,275.26],"nice":false,"zero":false,"padding":0},"axis":null},"y":{"field":"v","type":"quantitative","scale":{"domain":[0.446,1.186],"nice":false,"zero":false},"axis":null}}},
  {"data":{"values":[{"u":"EUR"}]},
   "layer":[
    {"mark":{"type":"point","shape":"M-0.8,-0.62Q-1,-0.62,-1,-0.42L-1,0.42Q-1,0.62,-0.8,0.62L0.8,0.62Q1,0.62,1,0.42L1,-0.42Q1,-0.62,0.8,-0.62Z","filled":true,"fill":"#000000","stroke":"#5d606b","strokeWidth":1,"size":708,"opacity":1},
     "encoding":{"x":{"datum":-9.19,"type":"quantitative","scale":{"domain":[-17.76,275.26],"nice":false,"zero":false,"padding":0},"axis":null},"y":{"datum":0.866,"type":"quantitative","scale":{"domain":[0.446,1.186],"nice":false,"zero":false},"axis":null}}},
    {"mark":{"type":"text","fontSize":10.5,"color":"#b2b5be","align":"center","baseline":"middle"},
     "encoding":{"x":{"datum":-9.19,"type":"quantitative","scale":{"domain":[-17.76,275.26],"nice":false,"zero":false,"padding":0},"axis":null},"y":{"datum":0.866,"type":"quantitative","scale":{"domain":[0.446,1.186],"nice":false,"zero":false},"axis":null},"text":{"field":"u"}}}
   ]},
  {"data":{"values":[{"t":"Supertrend V1.0 - Buy or Sell Signal"}]},
   "mark":{"type":"text","fontSize":13.5,"color":"#c8cad2","align":"left","baseline":"middle"},
   "encoding":{"x":{"datum":1.53,"type":"quantitative","scale":{"domain":[-17.76,275.26],"nice":false,"zero":false,"padding":0},"axis":null},"y":{"datum":0.832,"type":"quantitative","scale":{"domain":[0.446,1.186],"nice":false,"zero":false},"axis":null},"text":{"field":"t"}}}
 ]},
{"width":957,"height":52,
 "layer":[
  {"data":{"values":[{"i":-0.9,"t":84},{"i":4,"t":95},{"i":8,"t":100},{"i":11,"t":101},{"i":15,"t":98},{"i":19.3,"t":89},{"i":22,"t":75},{"i":24.2,"t":55},{"i":28,"t":38},{"i":31.5,"t":26},{"i":37.7,"t":13},{"i":45.6,"t":6},{"i":51.7,"t":1},{"i":55,"t":2.5},{"i":59.1,"t":3.5},{"i":63,"t":0},{"i":67,"t":-8},{"i":71,"t":-16},{"i":75.3,"t":-25},{"i":79,"t":-35},{"i":82.4,"t":-45},{"i":85.5,"t":-53},{"i":88.5,"t":-59},{"i":91.5,"t":-57},{"i":94.6,"t":-53},{"i":98,"t":-51},{"i":102,"t":-50},{"i":104.5,"t":-42},{"i":106.9,"t":-31},{"i":110.5,"t":-16},{"i":114.2,"t":0},{"i":117.5,"t":13},{"i":121.2,"t":26},{"i":124.7,"t":40},{"i":128.3,"t":53},{"i":131,"t":67},{"i":134.1,"t":80},{"i":137,"t":90},{"i":140.2,"t":98},{"i":142.5,"t":97},{"i":145.1,"t":92},{"i":150,"t":80},{"i":154.3,"t":69},{"i":158,"t":72},{"i":163.5,"t":80},{"i":167.5,"t":73},{"i":171.8,"t":66},{"i":176,"t":57},{"i":180,"t":49},{"i":186.2,"t":49},{"i":190,"t":52},{"i":195.3,"t":55},{"i":200.2,"t":53},{"i":204,"t":44},{"i":208.5,"t":32},{"i":214.5,"t":19},{"i":220.8,"t":6},{"i":225,"t":0},{"i":229,"t":-4},{"i":236,"t":-11},{"i":240,"t":-17},{"i":245.3,"t":-25},{"i":249,"t":-30},{"i":252,"t":-30.85}]},
   "mark":{"type":"line","color":"#a8dcea","strokeWidth":2,"interpolate":"monotone"},
   "encoding":{"x":{"field":"i","type":"quantitative","scale":{"domain":[-17.76,275.26],"nice":false,"zero":false,"padding":0},"axis":{"values":[0,45,87,114,150,190,233],"grid":true,"gridColor":"#363636","labels":false,"ticks":false,"domain":false,"title":null}},
    "y":{"field":"t","type":"quantitative","scale":{"domain":[-69.6,108.7],"nice":false,"zero":false},"axis":null}}},
  {"data":{"values":[{"z":0}]},
   "layer":[
    {"mark":{"type":"rule","color":"#8a8a8a","strokeWidth":1,"strokeDash":[5,3]},
     "encoding":{"y":{"field":"z","type":"quantitative","scale":{"domain":[-69.6,108.7],"nice":false,"zero":false},"axis":null},"x":{"datum":-1.225,"type":"quantitative","scale":{"domain":[-17.76,275.26],"nice":false,"zero":false,"padding":0},"axis":null},"x2":{"datum":257}}},
    {"mark":{"type":"rule","color":"#808080","strokeWidth":1},
     "encoding":{"y":{"field":"z","type":"quantitative","scale":{"domain":[-69.6,108.7],"nice":false,"zero":false},"axis":null},"x":{"datum":-2.45,"type":"quantitative","scale":{"domain":[-17.76,275.26],"nice":false,"zero":false,"padding":0},"axis":null},"x2":{"datum":-1.225}}},
    {"mark":{"type":"text","fontSize":11.5,"color":"#b2b5be","align":"right","baseline":"middle"},
     "encoding":{"y":{"field":"z","type":"quantitative","scale":{"domain":[-69.6,108.7],"nice":false,"zero":false},"axis":null},"x":{"datum":-3.98,"type":"quantitative","scale":{"domain":[-17.76,275.26],"nice":false,"zero":false,"padding":0},"axis":null},"text":{"field":"z","type":"quantitative","format":".2f"}}}
   ]},
  {"data":{"values":[{"x":0}]},"mark":{"type":"rule","color":"#575757"},"encoding":{"x":{"datum":-1.225,"type":"quantitative","scale":{"domain":[-17.76,275.26],"nice":false,"zero":false,"padding":0},"axis":null}}},
  {"data":{"values":[{"x":0}]},"mark":{"type":"rule","color":"#575757"},"encoding":{"x":{"datum":257.5,"type":"quantitative","scale":{"domain":[-17.76,275.26],"nice":false,"zero":false,"padding":0},"axis":null}}},
  {"data":{"values":[{"t":-30.85}]},
   "layer":[
    {"mark":{"type":"point","shape":"M-1,-0.317L1,-0.317L1,0.317L-1,0.317Z","filled":true,"fill":"#b2ebf2","size":2333,"opacity":1},
     "encoding":{"x":{"datum":-8.31,"type":"quantitative","scale":{"domain":[-17.76,275.26],"nice":false,"zero":false,"padding":0},"axis":null},"y":{"field":"t","type":"quantitative","scale":{"domain":[-69.6,108.7],"nice":false,"zero":false},"axis":null}}},
    {"mark":{"type":"text","fontSize":11.5,"color":"#131722","align":"center","baseline":"middle"},
     "encoding":{"x":{"datum":-8.31,"type":"quantitative","scale":{"domain":[-17.76,275.26],"nice":false,"zero":false,"padding":0},"axis":null},"y":{"field":"t","type":"quantitative","scale":{"domain":[-69.6,108.7],"nice":false,"zero":false},"axis":null},"text":{"field":"t","type":"quantitative","format":".2f"}}}
   ]},
  {"data":{"values":[{"t":"TRIX"}]},
   "mark":{"type":"text","fontSize":13.5,"color":"#c8cad2","align":"left","baseline":"middle"},
   "encoding":{"x":{"datum":1.53,"type":"quantitative","scale":{"domain":[-17.76,275.26],"nice":false,"zero":false,"padding":0},"axis":null},"y":{"datum":51.5,"type":"quantitative","scale":{"domain":[-69.6,108.7],"nice":false,"zero":false},"axis":null},"text":{"field":"t"}}}
 ]},
{"width":957,"height":28,
 "title":{"text":"TradingView","orient":"bottom","anchor":"start","frame":"group","dx":28,"offset":10,"font":"Lato","fontSize":14,"fontWeight":"normal","color":"#131722"},
 "layer":[
  {"data":{"values":[{"x":0}]},"mark":{"type":"rule","color":"#575757"},
   "encoding":{"x":{"datum":-1.225,"type":"quantitative","scale":{"domain":[-17.76,275.26],"nice":false,"zero":false,"padding":0},"axis":null}}},
  {"data":{"values":[{"x":0}]},"mark":{"type":"rule","color":"#575757"},"encoding":{"x":{"datum":257.5,"type":"quantitative","scale":{"domain":[-17.76,275.26],"nice":false,"zero":false,"padding":0},"axis":null}}},
  {"data":{"values":[{"i":0,"lab":"Giu"},{"i":45,"lab":"Ago"},{"i":87,"lab":"Ott"},{"i":114,"lab":"9"},{"i":190,"lab":"Mar"},{"i":233,"lab":"Maggio"}]},
   "mark":{"type":"text","fontSize":12,"fontWeight":"bold","color":"#a3a6af","align":"center","baseline":"middle"},
   "encoding":{"x":{"field":"i","type":"quantitative","scale":{"domain":[-17.76,275.26],"nice":false,"zero":false,"padding":0},"axis":null},"text":{"field":"lab"}}},
  {"data":{"values":[{"i":150,"lab":"2021"}]},
   "mark":{"type":"text","fontSize":12,"fontWeight":"bold","color":"#e6e8ee","align":"center","baseline":"middle"},
   "encoding":{"x":{"field":"i","type":"quantitative","scale":{"domain":[-17.76,275.26],"nice":false,"zero":false,"padding":0},"axis":null},"text":{"field":"lab"}}},
  {"data":{"values":[{"b":"Z","x":-9.19},{"b":"A","x":266.4}]},
   "layer":[
    {"mark":{"type":"point","shape":"circle","filled":true,"color":"#2a2e39","size":324,"opacity":1},
     "encoding":{"x":{"field":"x","type":"quantitative","scale":{"domain":[-17.76,275.26],"nice":false,"zero":false,"padding":0},"axis":null}}},
    {"mark":{"type":"text","fontSize":11,"color":"#787b86","align":"center","baseline":"middle"},
     "encoding":{"x":{"field":"x","type":"quantitative","scale":{"domain":[-17.76,275.26],"nice":false,"zero":false,"padding":0},"axis":null},"text":{"field":"b"}}}
   ]}
 ]}
]
}
